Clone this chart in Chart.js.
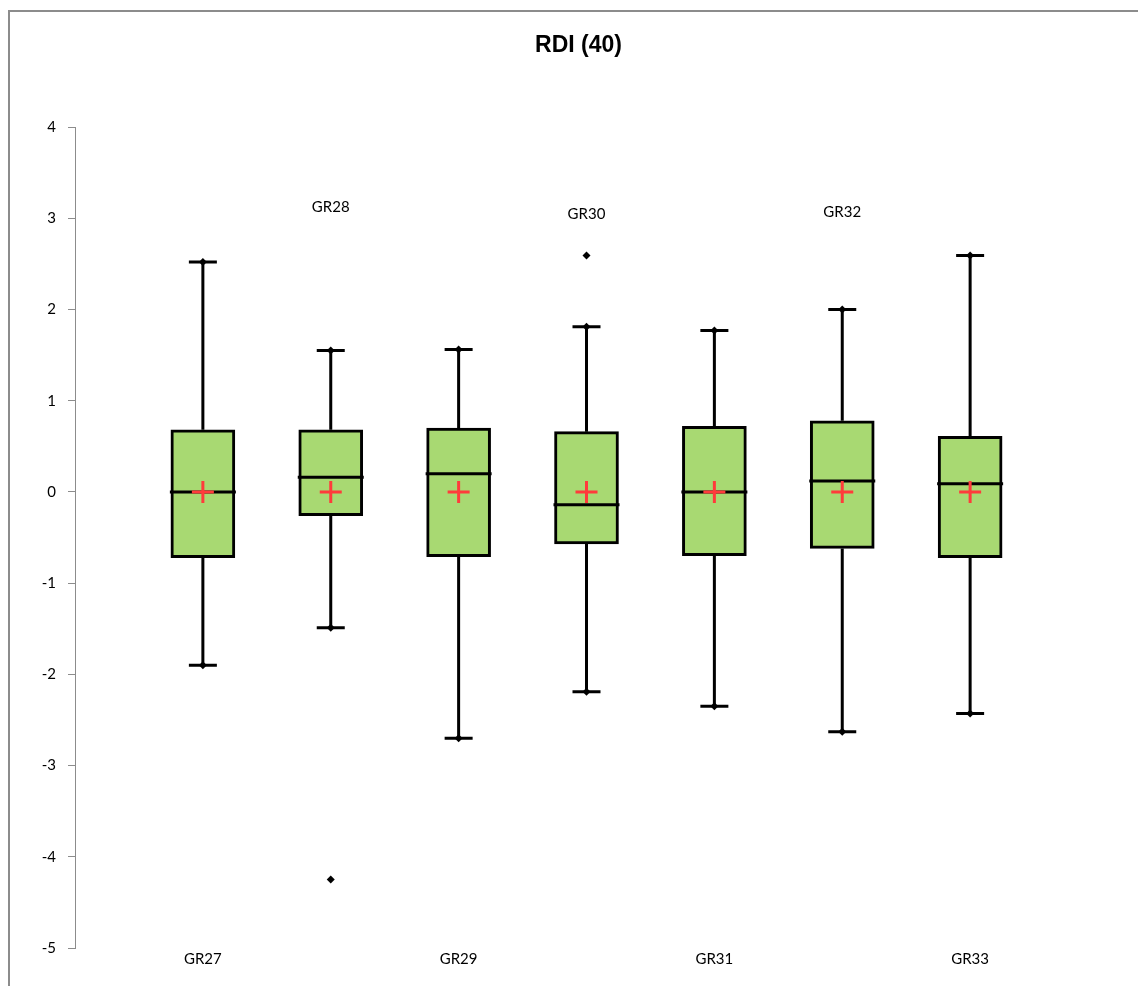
<!DOCTYPE html>
<html>
<head>
<meta charset="utf-8">
<script src="https://cdn.jsdelivr.net/npm/chart.js@4.4.1/dist/chart.umd.min.js"></script>
<style>
  html, body { margin: 0; padding: 0; background: #fff; overflow: hidden; }
  .frame { position: absolute; left: 8px; top: 10px; width: 1200px; height: 1100px; border-left: 2px solid #8c8c8c; border-top: 2px solid #8c8c8c; }
  .wrap { position: absolute; left: 0; top: 0; width: 1138px; height: 986px; }
</style>
</head>
<body>
<div class="frame"></div>
<div class="wrap"><canvas id="chart"></canvas></div>
<script>
const groups = ["GR27", "GR28", "GR29", "GR30", "GR31", "GR32", "GR33"];
const whiskerLow = [-1.90, -1.49, -2.70, -2.19, -2.35, -2.63, -2.43];
const q1 = [-0.72, -0.26, -0.71, -0.57, -0.70, -0.62, -0.72];
const median = [0.00, 0.16, 0.20, -0.14, 0.00, 0.12, 0.09];
const q3 = [0.68, 0.68, 0.70, 0.66, 0.72, 0.78, 0.61];
const whiskerHigh = [2.52, 1.55, 1.56, 1.81, 1.77, 2.00, 2.59];
const mean = [0, 0, 0, 0, 0, 0, 0];
const outliers = [[], [-4.25], [], [2.59], [], [], []];
// labels above the box for every second group, as in the original
const labelY = [null, 3.12, null, 3.04, null, 3.07, null];

const xs = groups.map((g, i) => i + 1);
const green = "#A8D972";

const boxData = xs.map((x, i) => ({ x: x, y: [q1[i], q3[i]] }));
const endData = [];
xs.forEach((x, i) => {
  endData.push({ x: x, y: whiskerLow[i] });
  endData.push({ x: x, y: whiskerHigh[i] });
});
const outlierData = [];
outliers.forEach((list, i) => list.forEach(v => outlierData.push({ x: xs[i], y: v })));
const meanData = xs.map((x, i) => ({ x: x, y: mean[i] }));

const boxPlugin = {
  id: "boxParts",
  beforeDatasetsDraw(chart) {
    const { ctx, scales: { x, y } } = chart;
    ctx.save();
    ctx.strokeStyle = "#000";
    ctx.lineWidth = 3;
    xs.forEach((v, i) => {
      const px = x.getPixelForValue(v);
      const half = 14;
      ctx.beginPath();
      ctx.moveTo(px, y.getPixelForValue(whiskerHigh[i]));
      ctx.lineTo(px, y.getPixelForValue(q3[i]));
      ctx.moveTo(px, y.getPixelForValue(q1[i]));
      ctx.lineTo(px, y.getPixelForValue(whiskerLow[i]));
      ctx.moveTo(px - half, y.getPixelForValue(whiskerHigh[i]));
      ctx.lineTo(px + half, y.getPixelForValue(whiskerHigh[i]));
      ctx.moveTo(px - half, y.getPixelForValue(whiskerLow[i]));
      ctx.lineTo(px + half, y.getPixelForValue(whiskerLow[i]));
      ctx.stroke();
    });
    ctx.restore();
  },
  afterDatasetDraw(chart, args) {
    if (args.index !== 0) return;
    const { ctx, scales: { x, y } } = chart;
    ctx.save();
    ctx.strokeStyle = "#000";
    ctx.lineWidth = 3;
    xs.forEach((v, i) => {
      const px = x.getPixelForValue(v);
      const py = y.getPixelForValue(median[i]);
      ctx.beginPath();
      ctx.moveTo(px - 33, py);
      ctx.lineTo(px + 33, py);
      ctx.stroke();
    });
    ctx.restore();
  },
  afterDraw(chart) {
    const { ctx, chartArea, scales: { x, y } } = chart;
    ctx.save();
    ctx.fillStyle = "#000";
    ctx.textAlign = "center";
    ctx.textBaseline = "middle";
    ctx.font = "bold 23px 'Liberation Sans'";
    ctx.fillText("RDI (40)", (chartArea.left + chartArea.right) / 2 - 8, 46);
    ctx.font = "15px Lato";
    groups.forEach((g, i) => {
      const px = x.getPixelForValue(xs[i]);
      const py = labelY[i] === null ? chartArea.bottom + 11 : y.getPixelForValue(labelY[i]);
      ctx.fillText(g, px, py);
    });
    ctx.restore();
  }
};

new Chart(document.getElementById("chart"), {
  data: {
    datasets: [
      {
        type: "bar",
        data: boxData,
        backgroundColor: green,
        borderColor: "#000",
        borderWidth: 3,
        borderSkipped: false,
        barThickness: 64,
        order: 3
      },
      {
        type: "scatter",
        data: endData,
        pointStyle: "rectRot",
        radius: 4,
        backgroundColor: "#000",
        borderColor: "#000",
        borderWidth: 0,
        order: 2
      },
      {
        type: "scatter",
        data: outlierData,
        pointStyle: "rectRot",
        radius: 4,
        backgroundColor: "#000",
        borderColor: "#000",
        borderWidth: 0,
        order: 2
      },
      {
        type: "scatter",
        data: meanData,
        pointStyle: "cross",
        radius: 11,
        borderColor: "#FF3B3B",
        borderWidth: 3,
        order: 1
      }
    ]
  },
  options: {
    responsive: true,
    maintainAspectRatio: false,
    animation: false,
    layout: { padding: { left: 0, right: 40, top: 127, bottom: 38 } },
    plugins: {
      legend: { display: false },
      tooltip: { enabled: false },
      title: { display: false }
    },
    scales: {
      x: {
        type: "linear",
        min: 0,
        max: 8,
        offset: false,
        display: false
      },
      y: {
        min: -5,
        max: 4,
        afterFit(scale) { scale.width = 75; },
        ticks: {
          stepSize: 1,
          padding: 12,
          color: "#000",
          font: { family: "Lato", size: 15 }
        },
        grid: {
          drawOnChartArea: false,
          tickLength: 7,
          tickColor: "#8c8c8c",
          tickWidth: 1
        },
        border: { color: "#8c8c8c", width: 1 }
      }
    }
  },
  plugins: [boxPlugin]
});
</script>
</body>
</html>
